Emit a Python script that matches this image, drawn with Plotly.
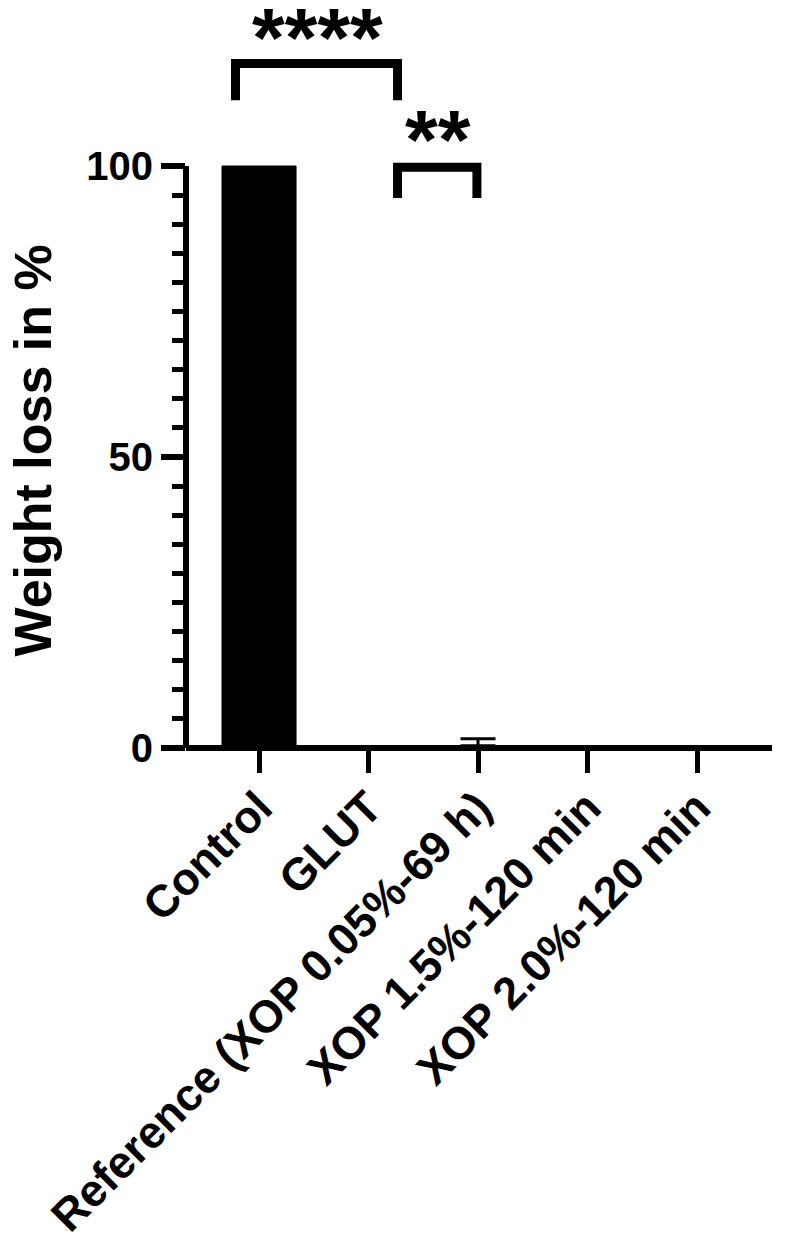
import plotly.graph_objects as go

# ---- data ----
categories = ["Control", "GLUT", "Reference (XOP 0.05%-69 h)",
              "XOP 1.5%-120 min", "XOP 2.0%-120 min"]
weight_loss = [100, 0, 0.4, 0, 0]
weight_loss_err = [0, 0, 1.2, 0, 0]

y_ticks = [0, 50, 100]
y_minor_ticks = [5, 10, 15, 20, 25, 30, 35, 40, 45, 55, 60, 65, 70, 75, 80, 85, 90, 95]
y_axis_max = 100
y_view_max = 127.15   # headroom above the axis for the significance brackets

# significance brackets
sig_left = [-0.215, 1.265]
sig_right = [1.265, 1.99]
sig_top = [117.6, 99.8]
sig_leg_bottom = [111.3, 94.5]
sig_labels = ["****", "**"]
sig_label_x = [0.534, 1.63]
sig_label_y = [122.0, 104.4]

FONT = "Liberation Sans, Arial, sans-serif"
OFF = 8  # default page body margin
W, H = 788 - OFF, 1242 - OFF
M_L, M_R, M_T, M_B = 186 - OFF, 16, 0, 1242 - 748
plot_h = H - M_T - M_B
plot_w = W - M_L - M_R

fig = go.Figure()

fig.add_trace(go.Bar(
    x=list(range(len(categories))), y=weight_loss, width=0.676,
    marker=dict(color="black", line=dict(color="black", width=1)),
    showlegend=False, hoverinfo="skip",
))

# error bar (upper only) for the groups that have one
err_x = [i for i, e in enumerate(weight_loss_err) if e > 0]
fig.add_trace(go.Scatter(
    x=err_x, y=[weight_loss[i] for i in err_x], mode="markers",
    marker=dict(size=1, color="rgba(0,0,0,0)"),
    error_y=dict(type="data", array=[weight_loss_err[i] for i in err_x],
                 arrayminus=[0 for _ in err_x], symmetric=False,
                 thickness=3, width=17.5, color="black"),
    showlegend=False, hoverinfo="skip", cliponaxis=False,
))

for l, r, t, b in zip(sig_left, sig_right, sig_top, sig_leg_bottom):
    fig.add_trace(go.Scatter(
        x=[l, l, r, r], y=[b, t, t, b], mode="lines",
        line=dict(color="black", width=9),
        showlegend=False, hoverinfo="skip",
    ))

for lab, lx, ly in zip(sig_labels, sig_label_x, sig_label_y):
    fig.add_annotation(x=lx, y=ly, xref="x", yref="y", text=lab,
                       showarrow=False, xanchor="center", yanchor="middle",
                       font=dict(family=FONT, size=84, color="black", weight="bold"))

# y axis line from 0 to 100
fig.add_shape(type="line", xref="paper", yref="y", x0=0, x1=0, y0=0, y1=y_axis_max,
              line=dict(color="black", width=6), layer="above")

fig.add_annotation(x=(32.5 - OFF - M_L) / plot_w, y=(M_T + plot_h - (451 - OFF)) / plot_h,
                   xref="paper", yref="paper", text="Weight loss in %",
                   textangle=-90, showarrow=False, xanchor="center", yanchor="middle",
                   font=dict(family=FONT, size=52, color="black", weight="bold"))

fig.update_layout(
    width=W, height=H,
    margin=dict(l=M_L, r=M_R, t=M_T, b=M_B, autoexpand=False),
    paper_bgcolor="white", plot_bgcolor="white",
    font=dict(family=FONT, color="black"),
    xaxis=dict(
        range=[-0.667, 4.685], tickmode="array",
        tickvals=list(range(len(categories))), ticktext=categories,
        ticks="outside", ticklen=22, tickwidth=5, tickcolor="black",
        showline=True, linewidth=6, linecolor="black",
        anchor="free", position=0, tickangle=-45, ticklabelstandoff=-10,
        tickfont=dict(family=FONT, size=45, color="black", weight="bold"),
        showgrid=False, zeroline=False, automargin=False,
    ),
    yaxis=dict(
        range=[0, y_view_max], tickmode="array", tickvals=y_ticks,
        ticks="outside", ticklen=24, tickwidth=6, tickcolor="black",
        showline=False,
        minor=dict(tickmode="array", tickvals=y_minor_ticks, ticks="outside",
                   ticklen=13, tickwidth=5, tickcolor="black"),
        tickfont=dict(family=FONT, size=40, color="black", weight="bold"),
        showgrid=False, zeroline=False, automargin=False,
    ),
)

fig.write_html("out.html")
